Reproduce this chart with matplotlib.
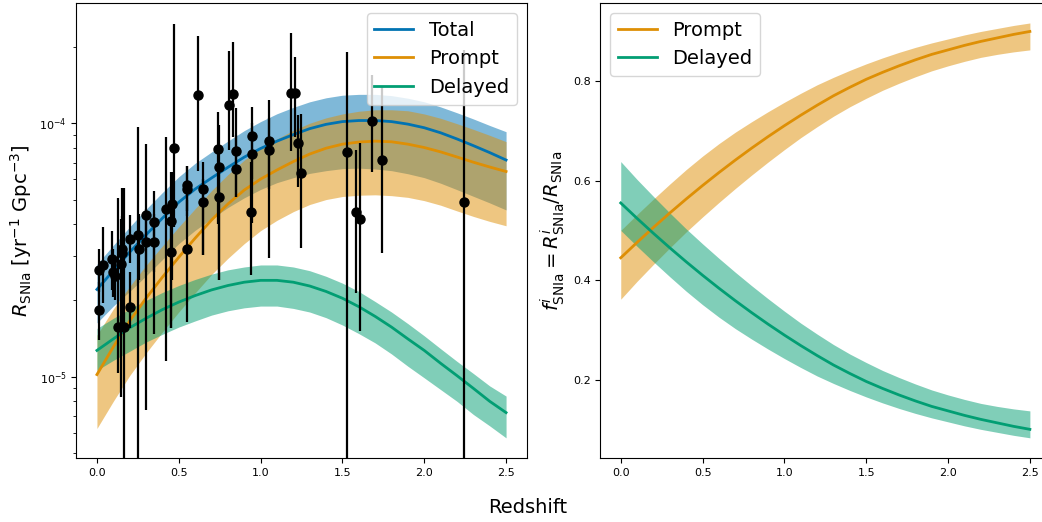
import numpy as np
import matplotlib.pyplot as plt

# redshift grid of the model curves
z_grid = [0.0, 0.1, 0.2, 0.3, 0.4, 0.5, 0.6, 0.7, 0.8, 0.9, 1.0, 1.1, 1.2,
          1.3, 1.4, 1.5, 1.6, 1.7, 1.8, 1.9, 2.0, 2.1, 2.2, 2.3, 2.4, 2.5]

# rates in units of 1e-5 yr^-1 Gpc^-3
total_mid = [2.21, 2.62, 3.1, 3.63, 4.22, 4.88, 5.5, 6.08, 6.7, 7.35, 7.95, 8.5, 9.02,
             9.52, 9.9, 10.15, 10.25, 10.25, 10.15, 9.92, 9.6, 9.17, 8.67, 8.16, 7.66, 7.16]
total_hi = [2.78, 3.3, 3.9, 4.58, 5.33, 6.15, 6.95, 7.7, 8.5, 9.35, 10.15, 10.9, 11.55,
            12.15, 12.6, 12.9, 13.0, 13.0, 12.85, 12.55, 12.15, 11.6, 11.0, 10.4, 9.8, 9.26]
total_lo = [1.63, 1.9, 2.17, 2.5, 2.9, 3.35, 3.78, 4.2, 4.65, 5.08, 5.48, 5.83, 6.1,
            6.34, 6.5, 6.62, 6.65, 6.6, 6.5, 6.32, 6.1, 5.8, 5.47, 5.15, 4.85, 4.55]

prompt_mid = [1.02, 1.31, 1.66, 2.04, 2.47, 2.96, 3.52, 4.15, 4.8, 5.45, 6.02, 6.54, 7.06,
              7.56, 7.97, 8.27, 8.43, 8.5, 8.45, 8.27, 8.02, 7.71, 7.36, 7.02, 6.72, 6.45]
prompt_hi = [1.46, 1.85, 2.27, 2.75, 3.28, 3.9, 4.6, 5.42, 6.27, 7.15, 7.95, 8.68, 9.37,
             10.0, 10.5, 10.88, 11.15, 11.3, 11.3, 11.2, 10.88, 10.46, 9.96, 9.46, 8.96, 8.46]
prompt_lo = [0.625, 0.8, 1.01, 1.24, 1.5, 1.8, 2.14, 2.53, 2.93, 3.35, 3.77, 4.14, 4.48,
             4.78, 5.0, 5.14, 5.2, 5.22, 5.18, 5.1, 4.95, 4.75, 4.51, 4.29, 4.1, 3.94]

delayed_mid = [1.27, 1.41, 1.56, 1.7, 1.84, 1.97, 2.09, 2.2, 2.29, 2.36, 2.4, 2.4, 2.36,
               2.28, 2.17, 2.04, 1.89, 1.73, 1.57, 1.41, 1.27, 1.13, 1.01, 0.9, 0.8, 0.722]
delayed_hi = [1.55, 1.7, 1.85, 2.0, 2.15, 2.29, 2.42, 2.54, 2.64, 2.71, 2.76, 2.76, 2.71,
              2.62, 2.49, 2.34, 2.17, 1.98, 1.8, 1.62, 1.45, 1.29, 1.15, 1.03, 0.92, 0.839]
delayed_lo = [1.06, 1.16, 1.26, 1.37, 1.47, 1.57, 1.66, 1.75, 1.82, 1.87, 1.9, 1.9, 1.86,
              1.8, 1.71, 1.6, 1.48, 1.36, 1.23, 1.1, 0.99, 0.89, 0.8, 0.71, 0.64, 0.574]

# fractions
fprompt_mid = [0.445, 0.476, 0.506, 0.535, 0.563, 0.59, 0.616, 0.641, 0.665, 0.688, 0.71, 0.731, 0.751,
               0.77, 0.787, 0.803, 0.817, 0.83, 0.842, 0.853, 0.862, 0.871, 0.879, 0.886, 0.893, 0.899]
fprompt_hi = [0.50, 0.532, 0.563, 0.593, 0.622, 0.649, 0.674, 0.697, 0.718, 0.738, 0.757, 0.775, 0.792,
              0.807, 0.821, 0.834, 0.846, 0.857, 0.867, 0.876, 0.884, 0.892, 0.899, 0.905, 0.911, 0.916]
fprompt_lo = [0.362, 0.398, 0.432, 0.465, 0.497, 0.527, 0.556, 0.584, 0.611, 0.637, 0.662, 0.686, 0.708,
              0.729, 0.748, 0.765, 0.781, 0.795, 0.808, 0.82, 0.83, 0.839, 0.847, 0.853, 0.858, 0.862]
fdelayed_mid = [0.555, 0.524, 0.494, 0.465, 0.437, 0.41, 0.384, 0.359, 0.335, 0.312, 0.29, 0.269, 0.249,
                0.23, 0.213, 0.197, 0.183, 0.17, 0.158, 0.147, 0.138, 0.129, 0.121, 0.114, 0.107, 0.101]
fdelayed_hi = [0.638, 0.602, 0.568, 0.535, 0.503, 0.473, 0.444, 0.416, 0.389, 0.363, 0.338, 0.314, 0.292,
               0.271, 0.252, 0.235, 0.219, 0.205, 0.192, 0.18, 0.17, 0.161, 0.153, 0.147, 0.142, 0.138]
fdelayed_lo = [0.50, 0.468, 0.437, 0.407, 0.378, 0.351, 0.326, 0.303, 0.282, 0.262, 0.243, 0.225, 0.208,
               0.193, 0.179, 0.166, 0.154, 0.143, 0.133, 0.124, 0.116, 0.108, 0.101, 0.095, 0.089, 0.084]

# observed rates (1e-5 yr^-1 Gpc^-3) with lower / upper error bar ends
obs_z = [0.012, 0.012, 0.037, 0.091, 0.101, 0.11, 0.128, 0.148, 0.152, 0.152, 0.165, 0.199, 0.199,
         0.252, 0.26, 0.30, 0.30, 0.351, 0.351, 0.42, 0.451, 0.451, 0.459, 0.47, 0.55, 0.55,
         0.55, 0.62, 0.648, 0.648, 0.74, 0.748, 0.748, 0.805, 0.829, 0.849, 0.849, 0.939, 0.949,
         0.949, 1.049, 1.049, 1.185, 1.21, 1.227, 1.248, 1.53, 1.585, 1.605, 1.683, 1.744, 2.246]
obs_rate = [2.64, 1.83, 2.76, 2.91, 2.60, 2.49, 1.57, 2.79, 3.07, 3.20, 1.57, 3.48, 1.89,
            3.63, 3.20, 4.35, 3.40, 4.07, 3.40, 4.6, 4.1, 3.1, 4.8, 7.97, 5.69, 5.5,
            3.2, 12.9, 5.52, 4.9, 7.9, 6.7, 5.1, 11.8, 13.0, 7.8, 6.6, 4.48, 8.88,
            7.57, 8.5, 7.87, 13.2, 13.2, 8.38, 6.38, 7.68, 4.48, 4.18, 10.2, 7.18, 4.88]
obs_lo = [2.16, 1.39, 1.95, 2.2, 2.07, 2.0, 1.03, 0.834, 2.0, 1.6, 0.1, 2.8, 1.55,
          0.1, 2.4, 0.738, 2.6, 1.48, 2.6, 1.15, 1.55, 1.55, 2.4, 3.9, 4.3, 4.5,
          1.65, 6.5, 3.02, 3.02, 4.0, 2.41, 2.41, 7.85, 8.85, 5.13, 5.13, 2.52, 6.0,
          4.03, 5.5, 2.93, 7.74, 8.85, 5.62, 3.21, 0.1, 2.13, 1.51, 6.44, 3.09, 0.1]
obs_hi = [3.18, 2.36, 3.89, 3.77, 3.2, 3.0, 5.08, 4.2, 4.3, 5.57, 5.57, 4.35, 2.6,
          9.64, 4.4, 8.27, 4.6, 5.4, 4.4, 8.85, 6.45, 4.0, 6.45, 24.7, 6.8, 6.8,
          5.0, 22.0, 7.06, 6.0, 11.1, 9.85, 7.0, 19.2, 20.9, 11.5, 9.0, 7.06, 11.6,
          10.0, 12.4, 10.5, 22.6, 18.3, 10.8, 10.9, 19.1, 7.85, 8.34, 15.5, 13.9, 19.5]

c_total = '#0173b2'
c_prompt = '#de8f05'
c_delayed = '#029e73'

fig = plt.figure(figsize=(10.42, 5.22), dpi=100)
ax1 = fig.add_axes([0.0734, 0.1226, 0.4319, 0.8716])
ax2 = fig.add_axes([0.5761, 0.1226, 0.4319, 0.8716])

s = 1e-5
z = np.array(z_grid)
for mid, lo, hi, col, lab in [(total_mid, total_lo, total_hi, c_total, 'Total'),
                              (prompt_mid, prompt_lo, prompt_hi, c_prompt, 'Prompt'),
                              (delayed_mid, delayed_lo, delayed_hi, c_delayed, 'Delayed')]:
    ax1.fill_between(z, np.array(lo) * s, np.array(hi) * s, color=col, alpha=0.5, lw=0)
    ax1.plot(z, np.array(mid) * s, color=col, lw=2, label=lab)

rate = np.array(obs_rate)
yerr = [rate - np.array(obs_lo), np.array(obs_hi) - rate]
ax1.errorbar(obs_z, rate * s, yerr=[yerr[0] * s, yerr[1] * s], fmt='o', color='k',
             ms=6.5, elinewidth=1.6, zorder=3)

ax1.set_yscale('log')
ax1.set_ylim(4.78e-6, 2.98e-4)
ax1.set_xlim(-0.125, 2.625)
ax1.set_xticks([0.0, 0.5, 1.0, 1.5, 2.0, 2.5])
ax1.set_ylabel(r'$R_{\rm SNIa}$ [yr$^{-1}$ Gpc$^{-3}$]', fontsize=14)
ax1.tick_params(labelsize=8)
ax1.legend(loc='upper right', fontsize=14)

for mid, lo, hi, col, lab in [(fprompt_mid, fprompt_lo, fprompt_hi, c_prompt, 'Prompt'),
                              (fdelayed_mid, fdelayed_lo, fdelayed_hi, c_delayed, 'Delayed')]:
    ax2.fill_between(z, lo, hi, color=col, alpha=0.5, lw=0)
    ax2.plot(z, mid, color=col, lw=2, label=lab)

ax2.set_xlim(-0.125, 2.625)
ax2.set_ylim(0.0435, 0.956)
ax2.set_xticks([0.0, 0.5, 1.0, 1.5, 2.0, 2.5])
ax2.set_yticks([0.2, 0.4, 0.6, 0.8])
ax2.set_ylabel(r'$f^i_{\rm SNIa} = R^i_{\rm SNIa}/R_{\rm SNIa}$', fontsize=14)
ax2.tick_params(labelsize=8)
ax2.legend(loc='upper left', fontsize=14)

fig.text(528 / 1042, 0.027, 'Redshift', fontsize=14, ha='center', va='center')

fig.savefig('out.png', dpi=100)
